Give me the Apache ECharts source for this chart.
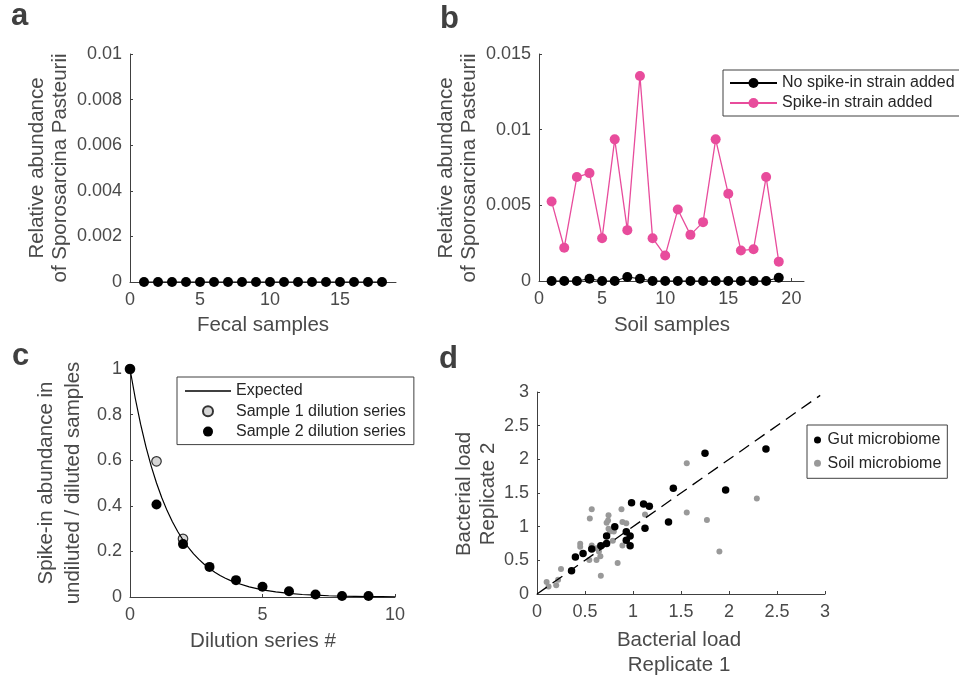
<!DOCTYPE html>
<html>
<head>
<meta charset="utf-8">
<script src="https://cdn.jsdelivr.net/npm/echarts@6/dist/echarts.min.js"></script>
<style>html,body{margin:0;padding:0;background:#fff}#c{width:959px;height:679px}</style>
</head>
<body>
<div id="c"></div>
<script>
// ---------- Panel a: fecal samples ----------
var fecalSamples = [1,2,3,4,5,6,7,8,9,10,11,12,13,14,15,16,17,18];
var fecalNoSpike = [0,0,0,0,0,0,0,0,0,0,0,0,0,0,0,0,0,0];
var aXTicks = [0,5,10,15];
var aYTicks = [0,0.002,0.004,0.006,0.008,0.01];

// ---------- Panel b: soil samples ----------
var soilSamples = [1,2,3,4,5,6,7,8,9,10,11,12,13,14,15,16,17,18,19];
var soilNoSpike = [0,0,0,0.00015,0,0,0.00026,0.00015,0,0,0,0,0,0,0,0,0,0,0.00022];
var soilSpike = [0.00525,0.0022,0.00687,0.00713,0.00283,0.00936,0.00336,0.01355,0.00283,0.00168,0.00472,0.00305,0.00389,0.00936,0.00576,0.00201,0.0021,0.00687,0.00128];
var bXTicks = [0,5,10,15,20];
var bYTicks = [0,0.005,0.01,0.015];

// ---------- Panel c: dilution series ----------
var expectedX = [0,0.2,0.4,0.6,0.8,1,1.2,1.4,1.6,1.8,2,2.2,2.4,2.6,2.8,3,3.2,3.4,3.6,3.8,4,4.5,5,5.5,6,6.5,7,7.5,8,8.5,9,9.5,10];
var expectedY = [1,0.8706,0.7579,0.6598,0.5743,0.5,0.4353,0.3789,0.3299,0.2872,0.25,0.2176,0.1895,0.1649,0.1436,0.125,0.1088,0.0947,0.0825,0.0718,0.0625,0.0442,0.03125,0.0221,0.0156,0.011,0.0078,0.0055,0.0039,0.0028,0.002,0.0014,0.001];
var sample1X = [0,1,2];
var sample1Y = [1,0.595,0.255];
var sample2X = [0,1,2,3,4,5,6,7,8,9];
var sample2Y = [1,0.406,0.232,0.132,0.074,0.045,0.025,0.011,0.004,0.004];
var cXTicks = [0,5,10];
var cYTicks = [0,0.2,0.4,0.6,0.8,1];

// ---------- Panel d: bacterial load replicates ----------
var gutRep1 = [0.36,0.40,0.48,0.57,0.665,0.725,0.725,0.81,0.93,0.93,0.97,0.97,0.985,1.11,1.17,1.125,1.37,1.42,1.75,1.965,2.385];
var gutRep2 = [0.345,0.55,0.60,0.67,0.715,0.75,0.86,1.0,0.925,0.80,0.86,0.715,1.355,1.335,1.305,0.975,1.07,1.57,2.09,1.545,2.155];
var soilRep1 = [0.10,0.12,0.20,0.22,0.25,0.45,0.45,0.545,0.57,0.55,0.57,0.62,0.62,0.645,0.66,0.665,0.725,0.74,0.745,0.745,0.76,0.79,0.80,0.84,0.88,0.89,0.93,0.89,1.125,1.56,1.56,1.77,1.90,2.29];
var soilRep2 = [0.18,0.11,0.13,0.21,0.37,0.745,0.70,0.505,0.72,1.12,1.26,0.505,0.68,0.63,0.56,0.27,1.06,1.09,1.17,0.97,0.93,0.79,0.93,0.46,1.26,1.07,1.05,0.72,1.18,1.94,1.21,1.10,0.63,1.42];
var identityX = [0,2.95];
var identityY = [0,2.95];
var dTicks = [0,0.5,1,1.5,2,2.5,3];

function zip(xs, ys){ return xs.map(function(x,i){ return [x, ys[i]]; }); }

var FONT = "'Liberation Sans', Arial, Helvetica, sans-serif";
var AX = '#404040';
var TXT = '#4a4a4a';

function xAxis(grid, min, max, ticks){
  return {
    type:'value', gridIndex:grid, min:min, max:max,
    splitLine:{show:false},
    axisLine:{show:true, onZero:false, lineStyle:{color:AX, width:1}},
    axisTick:{show:true, inside:true, length:3, customValues:ticks, lineStyle:{color:AX}},
    axisLabel:{customValues:ticks, margin:9, fontSize:18, color:TXT, fontFamily:FONT,
      formatter:function(v){ return String(+(+v).toFixed(6)); }}
  };
}
function yAxis(grid, min, max, ticks){
  return {
    type:'value', gridIndex:grid, min:min, max:max,
    splitLine:{show:false},
    axisLine:{show:true, onZero:false, lineStyle:{color:AX, width:1}},
    axisTick:{show:true, inside:true, length:3, customValues:ticks, lineStyle:{color:AX}},
    axisLabel:{customValues:ticks, margin:8, fontSize:18, color:TXT, fontFamily:FONT,
      formatter:function(v){ return String(+(+v).toFixed(6)); }}
  };
}

function txt(x, y, s, size, rot){
  return {
    type:'text', x:x, y:y, rotation: rot ? Math.PI/2 : 0,
    style:{text:s, fill:TXT, fontFamily:FONT, fontSize:size, fontWeight:'normal',
      textAlign:'center', textVerticalAlign:'middle'}
  };
}
function letter(x, y, s){
  return {
    type:'text', x:x, y:y,
    style:{text:s, fill:'#404040', fontFamily:FONT, fontSize:31, fontWeight:'bold',
      textAlign:'left', textVerticalAlign:'bottom'}
  };
}

var PINK = '#E84C9C';

var option = {
  animation:false,
  backgroundColor:'#fff',
  textStyle:{fontFamily:FONT},
  grid:[
    {left:130, top:54, width:266, height:228, outerBoundsMode:'none'},
    {left:539, top:54, width:265, height:227, outerBoundsMode:'none'},
    {left:130, top:369, width:265, height:228, outerBoundsMode:'none'},
    {left:537, top:392, width:288, height:202, outerBoundsMode:'none'}
  ],
  xAxis:[
    xAxis(0, 0, 19, aXTicks),
    xAxis(1, 0, 21, bXTicks),
    xAxis(2, 0, 10, cXTicks),
    xAxis(3, 0, 3, dTicks)
  ],
  yAxis:[
    yAxis(0, 0, 0.01, aYTicks),
    yAxis(1, 0, 0.015, bYTicks),
    yAxis(2, 0, 1, cYTicks),
    yAxis(3, 0, 3, dTicks)
  ],
  legend:[
    {
      data:['No spike-in strain added','Spike-in strain added'],
      orient:'vertical', left:723, top:70,
      padding:[4,5,4,6], itemGap:2, itemWidth:47, itemHeight:12.5,
      borderColor:'#404040', borderWidth:1, borderRadius:0,
      textStyle:{fontSize:16, color:'#262626', fontFamily:FONT, lineHeight:18},
      selectedMode:false
    },
    {
      data:[
        {name:'Expected', icon:'path://M0,0 L46,0 L46,1.3 L0,1.3 Z'},
        'Sample 1 dilution series','Sample 2 dilution series'
      ],
      orient:'vertical', left:177, top:377,
      padding:[5,8,4,8], itemGap:2.3, itemWidth:46, itemHeight:10,
      borderColor:'#404040', borderWidth:1, borderRadius:0,
      textStyle:{fontSize:16, color:'#262626', fontFamily:FONT, lineHeight:18},
      selectedMode:false
    },
    {
      data:['Gut microbiome','Soil microbiome'],
      orient:'vertical', left:807, top:425,
      padding:[6,6,6,7], itemGap:5.3, itemWidth:10, itemHeight:7,
      borderColor:'#404040', borderWidth:1, borderRadius:0,
      textStyle:{fontSize:16, color:'#262626', fontFamily:FONT, lineHeight:18},
      selectedMode:false
    }
  ],
  series:[
    { name:'Fecal', type:'line', xAxisIndex:0, yAxisIndex:0, clip:false,
      data:zip(fecalSamples, fecalNoSpike), symbol:'circle', symbolSize:10,
      lineStyle:{color:'#000', width:1}, itemStyle:{color:'#000', opacity:1} },
    { name:'No spike-in strain added', type:'line', xAxisIndex:1, yAxisIndex:1, clip:false,
      data:zip(soilSamples, soilNoSpike), symbol:'circle', symbolSize:10,
      lineStyle:{color:'#000', width:1}, itemStyle:{color:'#000', opacity:1} },
    { name:'Spike-in strain added', type:'line', xAxisIndex:1, yAxisIndex:1, clip:false,
      data:zip(soilSamples, soilSpike), symbol:'circle', symbolSize:10,
      lineStyle:{color:PINK, width:1.3}, itemStyle:{color:PINK, opacity:1} },
    { name:'Expected', type:'line', xAxisIndex:2, yAxisIndex:2, clip:false,
      data:zip(expectedX, expectedY), symbol:'none',
      lineStyle:{color:'#000', width:1.2}, itemStyle:{color:'#000'} },
    { name:'Sample 1 dilution series', type:'scatter', xAxisIndex:2, yAxisIndex:2, clip:false,
      data:zip(sample1X, sample1Y), symbol:'circle', symbolSize:9.5,
      itemStyle:{color:'#d6d6d6', borderColor:'#333', borderWidth:1.2, opacity:1} },
    { name:'Sample 2 dilution series', type:'scatter', xAxisIndex:2, yAxisIndex:2, clip:false,
      data:zip(sample2X, sample2Y), symbol:'circle', symbolSize:10,
      itemStyle:{color:'#000', opacity:1} },
    { name:'Soil microbiome', type:'scatter', xAxisIndex:3, yAxisIndex:3, clip:false,
      data:zip(soilRep1, soilRep2), symbol:'circle', symbolSize:6,
      itemStyle:{color:'#999999', opacity:1} },
    { name:'Gut microbiome', type:'scatter', xAxisIndex:3, yAxisIndex:3, clip:false,
      data:zip(gutRep1, gutRep2), symbol:'circle', symbolSize:7.5,
      itemStyle:{color:'#000', opacity:1} },
    { name:'Identity', type:'line', xAxisIndex:3, yAxisIndex:3, clip:false,
      data:zip(identityX, identityY), symbol:'none',
      lineStyle:{color:'#000', width:1.3, type:[12,7]} }
  ],
  graphic:[
    letter(11, 32, 'a'),
    letter(440, 35, 'b'),
    letter(12, 372, 'c'),
    letter(439, 375, 'd'),
    txt(37, 168, 'Relative abundance', 20.5, true),
    txt(60, 168, 'of Sporosarcina Pasteurii', 20.5, true),
    txt(263, 325, 'Fecal samples', 20.5, false),
    txt(446, 168, 'Relative abundance', 20.5, true),
    txt(469, 168, 'of Sporosarcina Pasteurii', 20.5, true),
    txt(672, 325, 'Soil samples', 20.5, false),
    txt(46, 483, 'Spike-in abundance in', 20.5, true),
    txt(73, 483, 'undiluted / diluted samples', 20.5, true),
    txt(263, 641, 'Dilution series #', 20.5, false),
    txt(464, 494, 'Bacterial load', 20.5, true),
    txt(488, 494, 'Replicate 2', 20.5, true),
    txt(679, 640, 'Bacterial load', 20.5, false),
    txt(679, 665, 'Replicate 1', 20.5, false)
  ]
};

var chart = echarts.init(document.getElementById('c'), null, {renderer:'canvas'});
chart.setOption(option);
</script>
</body>
</html>
